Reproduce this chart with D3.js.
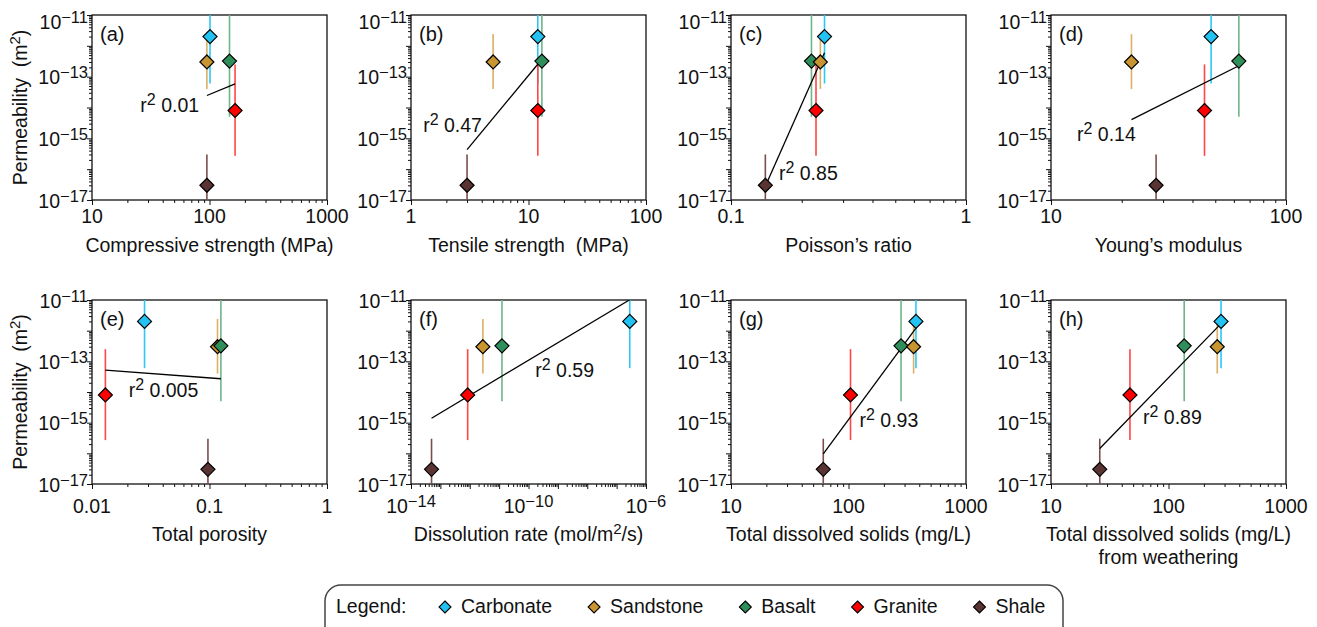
<!DOCTYPE html>
<html>
<head>
<meta charset="utf-8">
<script src="https://cdn.jsdelivr.net/npm/d3@7"></script>
<style>
  body { margin: 0; background: #fff; }
  svg { display: block; font-family: "Liberation Sans", Arial, sans-serif; }
  text { white-space: pre; fill: #111; }
</style>
</head>
<body>
<svg id="chart" width="1317" height="627"></svg>
<script>
// values (permeability in m2, shared by all panels)
const rocks = ["Carbonate", "Sandstone", "Basalt", "Granite", "Shale"];
const permeability = [2e-12, 3e-13, 3.2e-13, 8e-15, 3e-17];
const permLow = [6e-14, 4e-14, 5e-15, 2.7e-16, 1e-18];
const permHigh = [1e-10, 2.4e-12, 1e-10, 2.5e-13, 3e-16];

const compressive = [101, 95, 148, 165, 95];
const tensile = [12, 5, 13, 12, 3];
const poisson = [0.25, 0.24, 0.22, 0.23, 0.14];
const young = [48, 22, 63, 45, 28];
const porosity = [0.028, 0.117, 0.125, 0.013, 0.097];
const dissolution = [2.8e-7, 2.8e-12, 1.25e-11, 8.5e-13, 5e-14];
const tds = [375, 358, 280, 104, 61];
const tdsWeathering = [280, 260, 136, 47, 26];

const r2Values = ["0.01", "0.47", "0.85", "0.14", "0.005", "0.59", "0.93", "0.89"];
const yTickValues = [1e-11, 1e-13, 1e-15, 1e-17];

const markerColors = ["#22c3f3", "#c99531", "#2f8f5b", "#ff0000", "#5a3333"];
const barColors = ["#2cc8f6", "#dcae66", "#6db58a", "#ff4545", "#7b4d4d"];

const panels = [
  { id: "a", x: compressive, domain: [10, 1000], ticks: [10, 100, 1000], title: ["Compressive strength (MPa)"], label: [25.8, 7.2e-15] },
  { id: "b", x: tensile, domain: [1, 100], ticks: [1, 10, 100], title: ["Tensile strength  (MPa)"], label: [1.27, 1.6e-15] },
  { id: "c", x: poisson, domain: [0.1, 1], ticks: [0.1, 1], title: ["Poisson\u2019s ratio"], label: [0.16, 4.5e-17] },
  { id: "d", x: young, domain: [10, 100], ticks: [10, 100], title: ["Young\u2019s modulus"], label: [12.9, 8.3e-16] },
  { id: "e", x: porosity, domain: [0.01, 1], ticks: [0.01, 0.1, 1], title: ["Total porosity"], label: [0.0205, 6.8e-15] },
  { id: "f", x: dissolution, domain: [1e-14, 1e-6], ticks: [1e-14, 1e-10, 1e-6], sci: true, title: ["Dissolution rate (mol/m", "2", "/s)"], label: [1.7e-10, 3.2e-14] },
  { id: "g", x: tds, domain: [10, 1000], ticks: [10, 100, 1000], title: ["Total dissolved solids (mg/L)"], label: [124, 7.1e-16] },
  { id: "h", x: tdsWeathering, domain: [10, 1000], ticks: [10, 100, 1000], title: ["Total dissolved solids (mg/L)", "from weathering"], label: [60.7, 8.9e-16] },
];

const svg = d3.select("#chart");
const colLefts = [92, 411, 731, 1051];
const rowTops = [15, 300];
const rowHeights = [185, 184];
const plotW = 235;
const tickBase = [23, 29];
const titleBase = [52, 57];

function logTicks(domain) {
  const e0 = Math.round(Math.log10(domain[0]));
  const e1 = Math.round(Math.log10(domain[1]));
  const major = [], minor = [];
  for (let e = e0; e <= e1; e++) {
    major.push(Math.pow(10, e));
    if (e < e1) for (let k = 2; k < 10; k++) minor.push(Number((k * Math.pow(10, e)).toPrecision(10)));
  }
  return { major, minor };
}

function sup(text, base, exp) {
  text.append("tspan").text(base);
  text.append("tspan").attr("font-size", 16.5).attr("dy", -6).text(exp.replace("-", "\u2212"));
}

function diamond(r) {
  return `M0,${-r}L${r},0L0,${r}L${-r},0Z`;
}

function fit(xs, ys) {
  const lx = xs.map(Math.log10), ly = ys.map(Math.log10);
  const mx = d3.mean(lx), my = d3.mean(ly);
  let sxy = 0, sxx = 0;
  lx.forEach((v, i) => { sxy += (v - mx) * (ly[i] - my); sxx += (v - mx) ** 2; });
  const slope = sxy / sxx;
  return (v) => Math.pow(10, my + slope * (Math.log10(v) - mx));
}

function drawPanel(p, i) {
  const row = Math.floor(i / 4), col = i % 4;
  const left = colLefts[col], top = rowTops[row], h = rowHeights[row];
  const x = d3.scaleLog().domain(p.domain).range([left, left + plotW]);
  const y = d3.scaleLog().domain([1e-17, 1e-11]).range([top + h, top]);
  const g = svg.append("g").attr("id", "panel-" + p.id);

  g.append("clipPath").attr("id", "clip-" + p.id)
    .append("rect").attr("x", left).attr("y", top).attr("width", plotW).attr("height", h);

  // ticks
  const xt = logTicks(p.domain), yt = logTicks(y.domain());
  const axes = [
    [d3.axisBottom(x).tickValues(xt.major).tickSize(5), "translate(0," + (top + h) + ")"],
    [d3.axisBottom(x).tickValues(xt.minor).tickSize(3), "translate(0," + (top + h) + ")"],
    [d3.axisLeft(y).tickValues(yt.major).tickSize(5), "translate(" + left + ",0)"],
    [d3.axisLeft(y).tickValues(yt.minor).tickSize(3), "translate(" + left + ",0)"],
  ];
  axes.forEach(([ax, tr]) => {
    const a = g.append("g").attr("transform", tr).call(ax.tickFormat(""));
    a.select(".domain").remove();
    a.selectAll("line").attr("stroke", "#111").attr("stroke-width", 1);
  });

  g.append("rect")
    .attr("x", left).attr("y", top).attr("width", plotW).attr("height", h)
    .attr("fill", "none").attr("stroke", "#111").attr("stroke-width", 1.3);

  // y tick labels
  yTickValues.forEach((v) => {
    const t = g.append("text")
      .attr("x", left - 4)
      .attr("y", Math.max(y(v) + 7.5, 29))
      .attr("text-anchor", "end")
      .attr("font-size", 19.5);
    sup(t, "10", String(Math.round(Math.log10(v))));
  });

  // x tick labels
  p.ticks.forEach((v) => {
    const t = g.append("text")
      .attr("x", x(v))
      .attr("y", top + h + tickBase[row])
      .attr("text-anchor", "middle")
      .attr("font-size", 19.5);
    if (p.sci) sup(t, "10", String(Math.round(Math.log10(v))));
    else t.text(String(v));
  });

  // axis title
  if (p.sci) {
    const t = g.append("text").attr("x", left + plotW / 2).attr("y", top + h + titleBase[row])
      .attr("text-anchor", "middle").attr("font-size", 19.5);
    t.append("tspan").text(p.title[0]);
    t.append("tspan").attr("font-size", 15).attr("dy", -7).text(p.title[1]);
    t.append("tspan").attr("dy", 7).text(p.title[2]);
  } else {
    p.title.forEach((line, k) => {
      g.append("text").attr("x", left + plotW / 2).attr("y", top + h + titleBase[row] + k * 23)
        .attr("text-anchor", "middle").attr("font-size", 19.5).text(line);
    });
  }

  if (col === 0) {
    const t = g.append("text")
      .attr("transform", `translate(27,${top + h / 2}) rotate(-90)`)
      .attr("text-anchor", "middle")
      .attr("font-size", 19.5);
    t.append("tspan").text("Permeability  (m");
    t.append("tspan").attr("font-size", 15).attr("dy", -7).text("2");
    t.append("tspan").attr("dy", 7).text(")");
  }

  g.append("text")
    .attr("x", left + 8).attr("y", top + 26)
    .attr("font-size", 20)
    .text("(" + p.id + ")");

  const idx = d3.range(rocks.length).sort((a, b) => p.x[a] - p.x[b]);
  const inner = g.append("g").attr("clip-path", "url(#clip-" + p.id + ")");

  inner.selectAll("line.err")
    .data(idx)
    .enter()
    .append("line")
    .attr("class", "err")
    .attr("x1", (k) => x(p.x[k]))
    .attr("x2", (k) => x(p.x[k]))
    .attr("y1", (k) => y(permLow[k]))
    .attr("y2", (k) => y(permHigh[k]))
    .attr("stroke", (k) => barColors[k])
    .attr("stroke-width", 1.6);

  const f = fit(p.x, permeability);
  const xr = d3.extent(p.x);
  inner.append("line")
    .attr("x1", x(xr[0])).attr("y1", y(f(xr[0])))
    .attr("x2", x(xr[1])).attr("y2", y(f(xr[1])))
    .attr("stroke", "#000").attr("stroke-width", 1.3);

  inner.selectAll("path.pt")
    .data(idx)
    .enter()
    .append("path")
    .attr("class", "pt")
    .attr("d", diamond(7))
    .attr("transform", (k) => `translate(${x(p.x[k])},${y(permeability[k])})`)
    .attr("fill", (k) => markerColors[k])
    .attr("stroke", "#000")
    .attr("stroke-width", 1.2);

  const lt = g.append("text")
    .attr("x", x(p.label[0])).attr("y", y(p.label[1]))
    .attr("font-size", 19.5);
  lt.append("tspan").text("r");
  lt.append("tspan").attr("font-size", 16).attr("dy", -7).text("2");
  lt.append("tspan").attr("dy", 7).text(" " + r2Values[i]);
}

panels.forEach(drawPanel);

// legend
const legend = svg.append("g");
legend.append("rect")
  .attr("x", 325).attr("y", 585).attr("width", 738).attr("height", 70).attr("rx", 16)
  .attr("fill", "none").attr("stroke", "#444").attr("stroke-width", 1.5);
legend.append("text").attr("x", 336).attr("y", 613).attr("font-size", 19.5).text("Legend:");
let lx = 445;
rocks.forEach((r, k) => {
  legend.append("path")
    .attr("d", diamond(6))
    .attr("transform", `translate(${lx},607)`)
    .attr("fill", markerColors[k]).attr("stroke", "#000").attr("stroke-width", 1.1);
  const t = legend.append("text").attr("x", lx + 16).attr("y", 613).attr("font-size", 19.5).text(r);
  lx += 16 + t.node().getComputedTextLength() + 42;
});
</script>
</body>
</html>
